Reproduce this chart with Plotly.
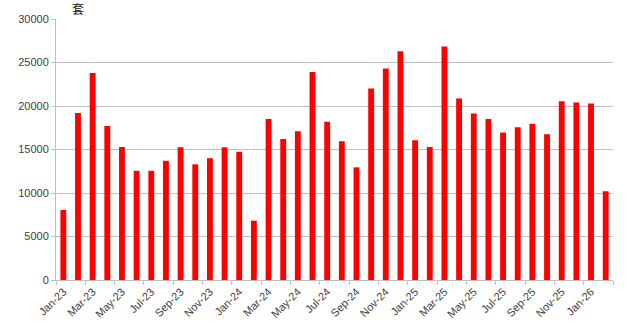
import plotly.graph_objects as go

months = ["Jan", "Feb", "Mar", "Apr", "May", "Jun", "Jul", "Aug", "Sep", "Oct", "Nov", "Dec"]
categories = [f"{m}-{y}" for y in ["23", "24", "25"] for m in months] + ["Jan-26", "Feb-26"]

values = [
    8050, 19200, 23800, 17700, 15300, 12550, 12550, 13700, 15250, 13300, 14000, 15250,
    14750, 6820, 18500, 16200, 17100, 23900, 18200, 15950, 12950, 22000, 24300, 26300,
    16050, 15300, 26850, 20850, 19150, 18500, 16950, 17550, 17950, 16750, 20550, 20400,
    20300, 10200,
]

unit_label = "套"
y_ticks = [0, 5000, 10000, 15000, 20000, 25000, 30000]

font_family = "Liberation Sans, Arial, sans-serif"
text_color = "#404040"
grid_color = "#BFBFBF"

fig = go.Figure(
    go.Bar(
        x=categories,
        y=values,
        marker=dict(color="#FF0000", line=dict(width=0)),
    )
)

fig.update_layout(
    width=637,
    height=327,
    margin=dict(l=56, r=24, t=19, b=47),
    paper_bgcolor="white",
    plot_bgcolor="white",
    bargap=0.6,
    showlegend=False,
    font=dict(family=font_family, size=11, color=text_color),
    annotations=[
        dict(
            text=unit_label,
            xref="paper", yref="paper",
            x=0.026, y=1.0,
            xanchor="left", yanchor="bottom",
            showarrow=False,
            font=dict(family="Noto Sans CJK SC", size=12, color="#202020"),
        )
    ],
)

fig.update_xaxes(
    type="category",
    automargin=False,
    tickmode="linear",
    tick0=0,
    dtick=2,
    tickson="boundaries",
    ticks="outside",
    ticklen=4,
    tickcolor=grid_color,
    tickangle=-45,
    showgrid=False,
    showline=True,
    linecolor=grid_color,
    linewidth=1,
    tickfont=dict(size=11, color=text_color),
)

fig.update_yaxes(
    automargin=False,
    range=[0, 30000],
    tickvals=y_ticks,
    ticktext=[str(v) for v in y_ticks],
    showgrid=True,
    gridcolor=grid_color,
    gridwidth=1,
    showline=True,
    linecolor=grid_color,
    linewidth=1,
    ticks="outside",
    ticklen=4,
    tickcolor=grid_color,
    zeroline=False,
    tickfont=dict(size=11, color=text_color),
)

fig.write_html("out.html")
